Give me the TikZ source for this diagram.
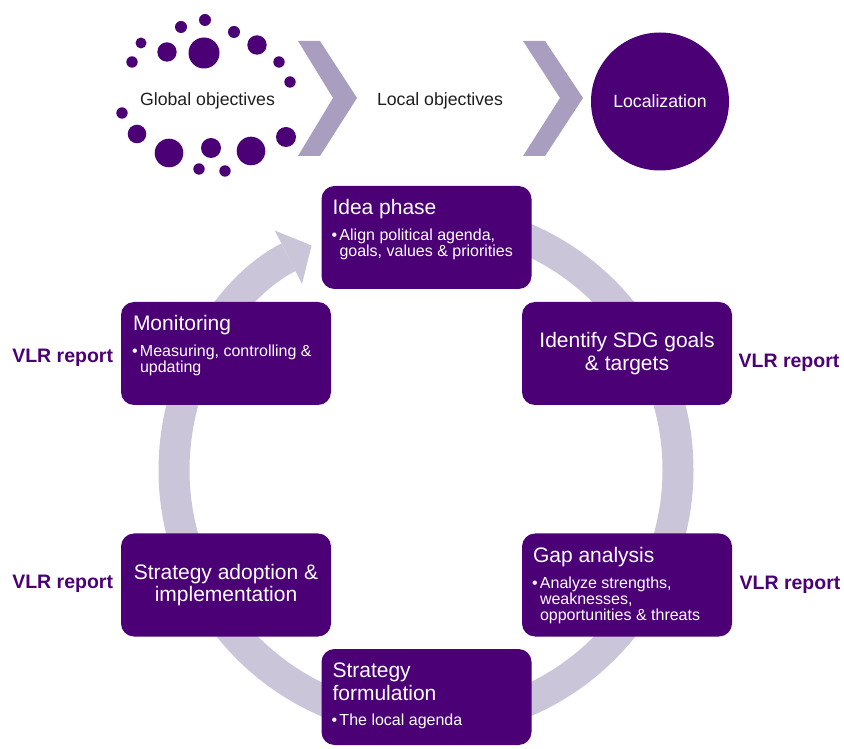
\documentclass[tikz,border=0pt]{standalone}
\usepackage{fontspec}
\setmainfont{Liberation Sans}
\usetikzlibrary{arrows.meta}

\definecolor{vlrpurple}{HTML}{4B0076}
\definecolor{ringgray}{HTML}{CAC5D8}
\definecolor{chevrongray}{HTML}{A99EC0}
\definecolor{captiongray}{HTML}{1E1E1E}

\newcommand{\titlesize}{\fontsize{21}{22.5}\selectfont}
\newcommand{\bulletsize}{\fontsize{16}{15.8}\selectfont}
% title on top, one bullet below it with a hanging indent
% (break bullet lines with \newline, \\ would end the paragraph)
\newcommand{\phasetext}[2]{\parbox[t]{192pt}{\raggedright\titlesize #1\par
    \vspace{9.2pt}\bulletsize\hangindent=7pt\hangafter=1\noindent
    \makebox[7pt][l]{\hspace{-0.8pt}\textbullet}#2}}

\begin{document}
\begin{tikzpicture}[x=1pt, y=1pt,
    >={Triangle[width=60pt, length=26pt, line width=0pt]},
    phase/.style={fill=vlrpurple, rounded corners=13pt, minimum width=210pt,
        minimum height=103pt, inner sep=0pt, text=white},
    phaselabel/.style={anchor=base west, inner sep=0pt, text=white},
    report/.style={anchor=base, inner sep=0pt, text=vlrpurple,
        font=\fontsize{19.5}{22}\selectfont\bfseries},
    caption/.style={anchor=base, inner sep=0pt, text=captiongray,
        font=\fontsize{17.7}{20}\selectfont},
    chevron/.style={fill=chevrongray}]
    \useasboundingbox (0,0) rectangle (844,748);

    % the cycle ring with its arrow head
    \coordinate (hub) at (426,278);
    \draw[->, ringgray, line width=31pt]
        (hub) ++(90:252) arc[start angle=90, end angle=-243, radius=252];

    % dots round the global objectives
    \foreach \x/\y/\r in {205/728/6, 181/721/6, 234/716/6, 141/705/5.5,
        204/695/15.5, 167/696/9.7, 257/703/9.7, 132/686/5.7, 279/686/5.7,
        290/666/5.7, 122/635/5.7, 137/614/9.3, 169/595/14.3, 211/600/10,
        251/597/14.3, 286/611/10, 199/579/5.7, 225/577/5.7}
        \fill[vlrpurple] (\x,\y) circle (\r);
    \node[caption] (global) at (207.5,642) {Global objectives};

    \fill[chevron] (298,707) -- (320,707) -- (357,650) -- (320,592)
        -- (298,592) -- (333,650) -- cycle;
    \node[caption] (localobj) at (440,642) {Local objectives};
    \fill[chevron] (523,707) -- (545,707) -- (583,650) -- (545,592)
        -- (523,592) -- (560,650) -- cycle;

    \node[circle, fill=vlrpurple, minimum size=138pt, inner sep=0pt, text=white,
        font=\fontsize{17.7}{20}\selectfont] (localization) at (660,646.5) {Localization};

    % the six phases
    \node[phase] (idea) at (426.5,510.5) {};
    \node[phaselabel] (ideatext) at ([shift={(11,-29)}]idea.north west)
        {\phasetext{Idea phase}{Align political agenda,\newline goals, values \& priorities}};

    \node[phase, align=center, font=\titlesize] (identify) at (627,394.5)
        {Identify SDG goals\\\& targets};

    \node[phase] (gap) at (627,163) {};
    \node[phaselabel] (gaptext) at ([shift={(11,-29)}]gap.north west)
        {\phasetext{Gap analysis}{Analyze strengths,\newline weaknesses,\newline
        opportunities \& threats}};

    \node[phase, minimum height=96pt] (formulation) at (426.5,51) {};
    \node[phaselabel] (formulationtext) at ([shift={(11,-29)}]formulation.north west)
        {\phasetext{Strategy\\formulation}{The local agenda}};

    \node[phase, align=center, font=\titlesize] (adoption) at (226,163)
        {Strategy adoption \&\\implementation};

    \node[phase] (monitoring) at (226,394.5) {};
    \node[phaselabel] (monitoringtext) at ([shift={(12,-29)}]monitoring.north west)
        {\phasetext{Monitoring}{Measuring, controlling \&\newline updating}};

    % reports beside the phases
    \node[report] (reportmon) at (62.7,385) {VLR report};
    \node[report] (reportsdg) at (789,380) {VLR report};
    \node[report] (reportgap) at (790,159) {VLR report};
    \node[report] (reportadopt) at (62.7,160) {VLR report};
\end{tikzpicture}
\end{document}
